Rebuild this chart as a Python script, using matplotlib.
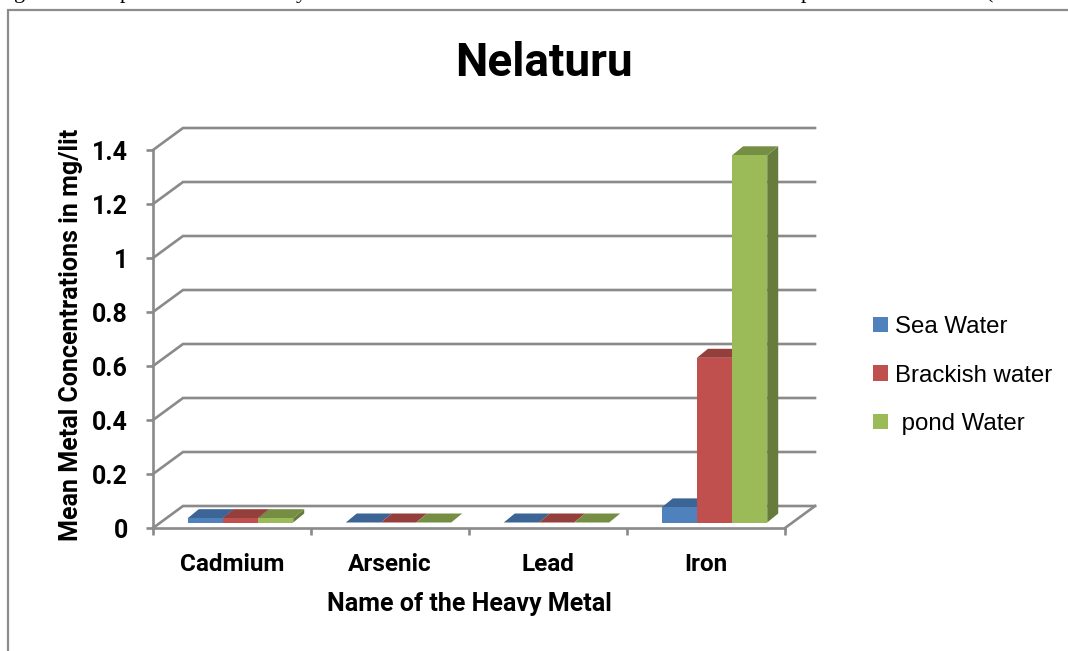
import matplotlib
matplotlib.use('Agg')
import matplotlib.pyplot as plt
from matplotlib.lines import Line2D
from matplotlib.patches import Patch

metals = ['Cadmium', 'Arsenic', 'Lead', 'Iron']
sea_water = [0.016, 0.0, 0.0, 0.056]
brackish_water = [0.016, 0.0, 0.0, 0.61]
pond_water = [0.016, 0.0, 0.0, 1.36]
series_names = ['Sea Water', 'Brackish water', ' pond Water']
y_ticks = [0, 0.2, 0.4, 0.6, 0.8, 1.0, 1.2, 1.4]
y_tick_labels = ['0', '0.2', '0.4', '0.6', '0.8', '1', '1.2', '1.4']

W, H = 1068, 651
LEFT, RIGHT, BOTTOM, TOP = 153, 785, 528, 150
PX_X = (RIGHT - LEFT) / 4      # pixels per category
PX_Y = (BOTTOM - TOP) / 1.4    # pixels per mg/lit

GRID = '#8a8a8a'
COND = ['Roboto', 'Liberation Sans']
PLAIN = ['Liberation Sans']

# front, top, side shades of each series
shades = [('#4F81BD', '#3C6494', '#37597F'),
          ('#C0504D', '#953F3D', '#7F3533'),
          ('#9BBB59', '#758E43', '#677C3C')]


def shift(x, y, dx_px, dy_px):
    # oblique projection: push a data point back by a pixel offset
    return x + dx_px / PX_X, y + dy_px / PX_Y


fig = plt.figure(figsize=(W / 100, H / 100), dpi=100)
ax = fig.add_axes([LEFT / W, 1 - BOTTOM / H, (RIGHT - LEFT) / W, (BOTTOM - TOP) / H])
ax.set_xlim(0, 4)
ax.set_ylim(0, 1.4)
ax.patch.set_alpha(0)

# back wall grid and floor
WALL_DX, WALL_DY = 30, 22
for v in y_ticks:
    x1, y1 = shift(0, v, WALL_DX, WALL_DY)
    x2, y2 = shift(4, v, WALL_DX, WALL_DY)
    ax.plot([0, x1, x2], [v, y1, y2], color=GRID, lw=1.9, clip_on=False, zorder=1,
            solid_joinstyle='miter')
x2, y2 = shift(4, 0, WALL_DX, WALL_DY)
ax.plot([4, x2], [0, y2], color=GRID, lw=1.9, clip_on=False, zorder=1)

# bars
BAR_W = 0.2225
GROUP_GAP = 0.22
BAR_DX, BAR_DY = 11, 9
BASE_DY = 5.5
for s, values in enumerate([sea_water, brackish_water, pond_water]):
    front, top, side = shades[s]
    for i, v in enumerate(values):
        x0 = i + GROUP_GAP + s * BAR_W
        x1 = x0 + BAR_W
        _, y0 = shift(0, 0, 0, BASE_DY)
        yt = y0 + v
        bx0, byt = shift(x0, yt, BAR_DX, BAR_DY)
        bx1, by0 = shift(x1, y0, BAR_DX, BAR_DY)
        ax.fill([x1, bx1, bx1, x1], [y0, by0, byt, yt], color=side, lw=0, clip_on=False, zorder=3)
        ax.fill([x0, x1, bx1, bx0], [yt, yt, byt, byt], color=top, lw=0, clip_on=False, zorder=3)
        ax.fill([x0, x1, x1, x0], [y0, y0, yt, yt], color=front, lw=0, clip_on=False, zorder=3)

# axes
for name in ['top', 'right']:
    ax.spines[name].set_visible(False)
for name in ['left', 'bottom']:
    ax.spines[name].set_color(GRID)
    ax.spines[name].set_linewidth(1.9)
    ax.spines[name].set_zorder(2)
ax.set_yticks(y_ticks)
ax.set_yticklabels(y_tick_labels, fontsize=18, fontweight='bold', family=COND)
ax.set_xticks(range(5))
ax.set_xticklabels([])
ax.set_xticks([i + 0.5 for i in range(4)], minor=True)
ax.set_xticklabels(metals, minor=True, fontsize=17.5, fontweight='bold', family=COND)
ax.tick_params(axis='x', which='major', length=5, width=1.9, color=GRID)
ax.tick_params(axis='x', which='minor', length=0, pad=18)
ax.tick_params(axis='y', length=5, width=1.9, color=GRID, pad=13)

fig.text(544 / W, 1 - 63 / H, 'Nelaturu', fontsize=33, fontweight='bold', family=COND,
         ha='center', va='center')
fig.text(71 / W, 1 - 335 / H, 'Mean Metal Concentrations in mg/lit', fontsize=18, fontweight='bold',
         family=COND, rotation=90, ha='center', va='center')
fig.text(469 / W, 1 - 604 / H, 'Name of the Heavy Metal', fontsize=18, fontweight='bold', family=COND,
         ha='center', va='center')

handles = [Patch(facecolor=shades[k][0], label=series_names[k]) for k in range(3)]
fig.legend(handles=handles, loc='center left', bbox_to_anchor=(873 / W, 1 - 375.5 / H), frameon=False,
           prop={'family': PLAIN, 'size': 17.3}, handlelength=0.63, handleheight=0.63,
           handletextpad=0.28, labelspacing=1.1, borderpad=0, borderaxespad=0)

# page frame around the chart
fig.add_artist(Line2D([7.5 / W, 7.5 / W, 1], [0, 1 - 10 / H, 1 - 10 / H], color='#8c8c8c', lw=1.6,
                      solid_joinstyle='miter'))

# descenders of the caption line cropped off above the chart
for ch, px in [('g', 14), ('p', 120), ('y', 296), ('p', 801), ('(', 986)]:
    fig.text(px / W, 1 + 2 / H, ch, fontsize=16, family='Liberation Serif', ha='left', va='baseline',
             color='black')

fig.savefig('out.png', dpi=100)
